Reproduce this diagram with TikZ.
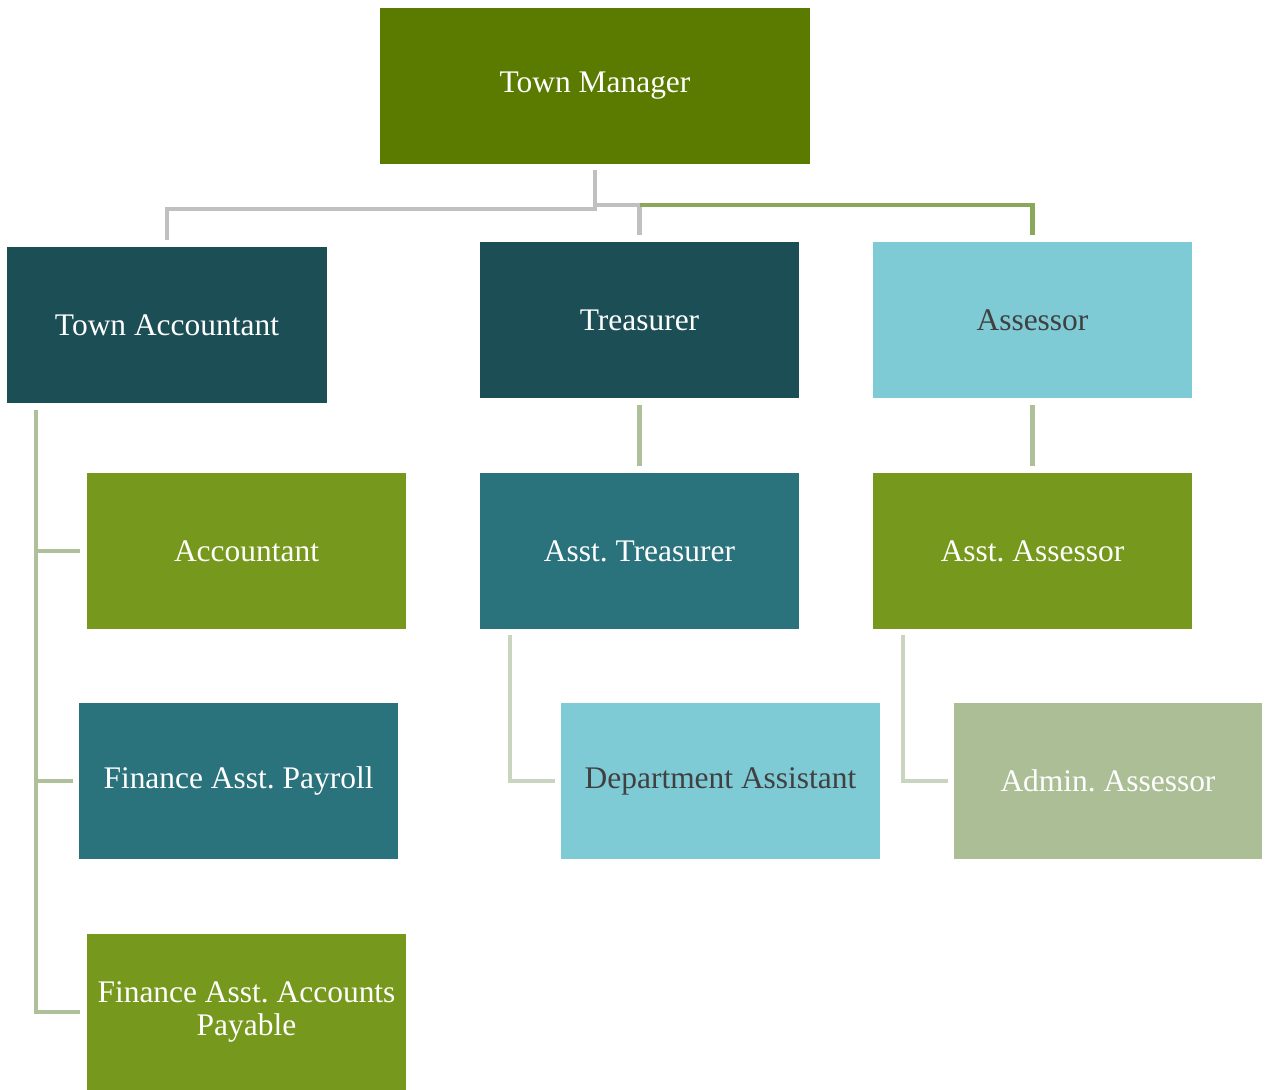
\documentclass[tikz,border=0pt]{standalone}
\usepackage{fontspec}
\setmainfont{Liberation Serif}
\usepackage{xcolor}
\usetikzlibrary{calc}
\frenchspacing

\definecolor{mgrgreen}{HTML}{5A7A00}
\definecolor{darkteal}{HTML}{1C4E55}
\definecolor{midteal}{HTML}{2A737C}
\definecolor{lightcyan}{HTML}{7ECBD5}
\definecolor{olive}{HTML}{76981C}
\definecolor{sage}{HTML}{ABBE96}
\definecolor{linkgray}{HTML}{C0C0C0}
\definecolor{linkgreen}{HTML}{8AA85A}
\definecolor{linksage}{HTML}{ADC09A}
\definecolor{linkpale}{HTML}{C9D5BE}
\definecolor{darktext}{HTML}{404040}

\tikzset{
  box/.style={rectangle, minimum width=6.38cm, minimum height=3.12cm, inner sep=0pt,
    align=center, text=white, font=\fontsize{17.9}{18.8}\selectfont},
  graylink/.style={draw=linkgray, line width=2.3pt},
  greenlink/.style={draw=linkgreen, line width=2.3pt},
  sublink/.style={draw=linksage, line width=2.3pt},
  palelink/.style={draw=linkpale, line width=2.3pt}
}

\begin{document}
\begin{tikzpicture}
    \useasboundingbox (0,0) rectangle (25.34,-21.78);

    \node (tm) [box, fill=mgrgreen, minimum width=8.6cm] at (11.9,-1.72) {Town Manager};
    \node (tacc) [box, fill=darkteal] at (3.34,-6.5) {Town Accountant};
    \node (tr) [box, fill=darkteal] at (12.79,-6.4) {Treasurer};
    \node (as) [box, fill=lightcyan, text=darktext] at (20.65,-6.4) {Assessor};
    \node (acc) [box, fill=olive] at (4.93,-11.02) {Accountant};
    \node (atr) [box, fill=midteal] at (12.79,-11.02) {Asst. Treasurer};
    \node (aas) [box, fill=olive] at (20.65,-11.02) {Asst. Assessor};
    \node (fp) [box, fill=midteal] at (4.77,-15.62) {Finance Asst. Payroll};
    \node (da) [box, fill=lightcyan, text=darktext] at (14.41,-15.62) {Department Assistant};
    \node (ad) [box, fill=sage, minimum width=6.16cm] at (22.16,-15.62) {Admin. Assessor};
    \node (ap) [box, fill=olive] at (4.93,-20.24) {Finance Asst. Accounts\\Payable};

    % top level
    \coordinate (split) at ($(tm.south)+(0,-0.82)$);
    \draw[graylink, shorten <=0.12cm, shorten >=0.14cm] (tm.south) -- ++(0,-0.9) -| (tacc.north);
    \draw[graylink, shorten >=0.14cm] (split) -| (tr.north);
    \draw[greenlink, shorten >=0.14cm] (tr.north |- split) -| (as.north);

    % town accountant
    \coordinate (taccdrop) at ($(tacc.south west)+(0.58,-0.14)$);
    \draw[sublink, shorten >=0.14cm] (taccdrop) |- (acc.west);
    \draw[sublink, shorten >=0.12cm] (taccdrop) |- (fp.west);
    \draw[sublink, shorten >=0.14cm] (taccdrop) |- (ap.west);

    % treasurer and assessor
    \draw[sublink, shorten <=0.14cm, shorten >=0.14cm] (tr) -- (atr);
    \draw[sublink, shorten <=0.14cm, shorten >=0.14cm] (as) -- (aas);

    \draw[palelink, shorten >=0.12cm] ($(atr.south west)+(0.6,-0.12)$) |- (da.west);
    \draw[palelink, shorten >=0.12cm] ($(aas.south west)+(0.6,-0.12)$) |- (ad.west);
\end{tikzpicture}
\end{document}
